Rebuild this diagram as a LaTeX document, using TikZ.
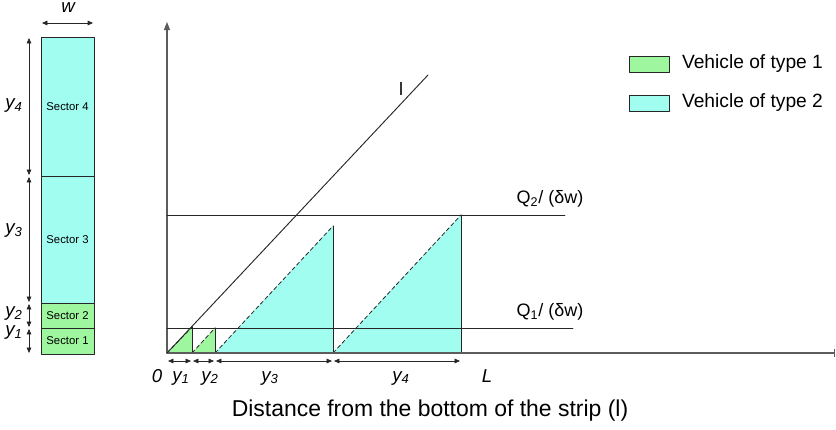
\documentclass[tikz,border=0pt]{standalone}
\usepackage{fontspec}
\setmainfont{Liberation Sans}
\usetikzlibrary{arrows.meta, positioning}
\definecolor{ink}{HTML}{262626}
\definecolor{vgreen}{HTML}{9EF79E}
\definecolor{vcyan}{HTML}{A2FDF1}
\tikzset{el/.style={line cap=round, line join=round},
  dim/.style={ink, line width=0.5pt, {Triangle[length=4pt,width=3.5pt]}-{Triangle[length=4pt,width=3.5pt]}},
  rule/.style={ink, line width=0.7pt},
  lab/.style={font=\fontsize{13.5}{15}\selectfont},
  sec/.style={font=\fontsize{8.5}{10}\selectfont},
  key/.style={draw=ink, line width=0.5pt, minimum width=30pt, minimum height=12pt, inner sep=0pt}}

\begin{document}
\begin{tikzpicture}[el, x=0.75pt, y=-0.75pt]
  \useasboundingbox (0,0) rectangle (836,429);
  % the strip and its sectors
  \foreach \lo/\hi/\pig/\t/\ly in {354/328/vgreen/1/333, 328/303/vgreen/2/314, 303/176/vcyan/3/231, 176/37/vcyan/4/106}{
     \filldraw[fill=\pig, draw=ink, line width=0.6pt] (41,\lo) rectangle (94,\hi);
     \node[sec] (sec\t) at (67.5,{(\lo+\hi)/2}) {Sector \t};
     \coordinate (dl\t) at (29,\lo); \coordinate (dh\t) at (29,\hi);
     \draw[dim, shorten <=0.8pt, shorten >=0.8pt] (dl\t) -- (dh\t);
     \node[lab, font=\fontsize{14}{15}\selectfont\itshape] (ly\t) at (14,\ly) {y\textsubscript{\t}};}
  \coordinate (wl) at (42,23);\coordinate (wr) at (93,23);
  \draw[dim] (wl) -- (wr);
  \node[lab, font=\fontsize{14}{15}\selectfont\itshape] (wlab) at (68,8) {w};
  % triangles
  \foreach \a/\b/\top/\pig in {167/192/327/vgreen, 192/215/328/vgreen, 215/333/226/vcyan, 333/461/215/vcyan}{
     \fill[\pig] (\a,353) -- (\b,\top) -- (\b,353) -- cycle;
     \draw[rule, line width=0.6pt, densely dashed] (\a,353) -- (\b,\top);
     \draw[rule] (\b,\top) -- (\b,353);}
  % axes and lines
  \coordinate (O) at (167,353);\coordinate (ytop) at (167,22);\coordinate (xend) at (835,353);
  \draw[ink!75, line width=0.8pt, -{Triangle[length=6pt,width=4.5pt]}] (O) -- (ytop);
  \draw[ink!75, line width=0.8pt, -{Bar[width=6pt]}] (O) -- (xend);
  \coordinate (lend) at (428,75);
  \draw[rule] (O) -- (lend);
  \node[lab] (lname) at (401,89) {l};
  \coordinate (q2a) at (167,215);\coordinate (q2b) at (565,215);
  \coordinate (q1a) at (167,328);\coordinate (q1b) at (573,328);
  \draw[rule] (q2a) -- (q2b);
  \draw[rule] (q1a) -- (q1b);
  \node[lab] (q2) at (550,199) {Q\textsubscript{2}/ (δw)};
  \node[lab] (q1) at (550,312) {Q\textsubscript{1}/ (δw)};
  % lengths along the strip
  \foreach \a/\b/\t/\lx in {167/192/1/181, 192/215/2/210, 215/333/3/270, 333/461/4/401}{
     \coordinate (ba\t) at (\a,361); \coordinate (bb\t) at (\b,361);
     \draw[dim, shorten <=0.8pt, shorten >=0.8pt] (ba\t) -- (bb\t);
     \node[lab, font=\fontsize{14}{15}\selectfont\itshape] (lx\t) at (\lx,378) {y\textsubscript{\t}};}
  \node[lab, font=\fontsize{14}{15}\selectfont\itshape] (zero) at (157,376) {0};
  \node[lab, font=\fontsize{14}{15}\selectfont\itshape] (Lend) at (487,376) {L};
  \node[lab, font=\fontsize{17.2}{19}\selectfont] (xname) at (430,411) {Distance from the bottom of the strip (l)};
  % legend
  \node[key, fill=vgreen] (k1) at (649,64) {};
  \node[key, fill=vcyan] (k2) at (649,103) {};
  \node[lab, font=\fontsize{14.4}{16}\selectfont, right=6pt of k1] (t1) {Vehicle of type 1};
  \node[lab, font=\fontsize{14.4}{16}\selectfont, right=6pt of k2] (t2) {Vehicle of type 2};
\end{tikzpicture}
\end{document}
